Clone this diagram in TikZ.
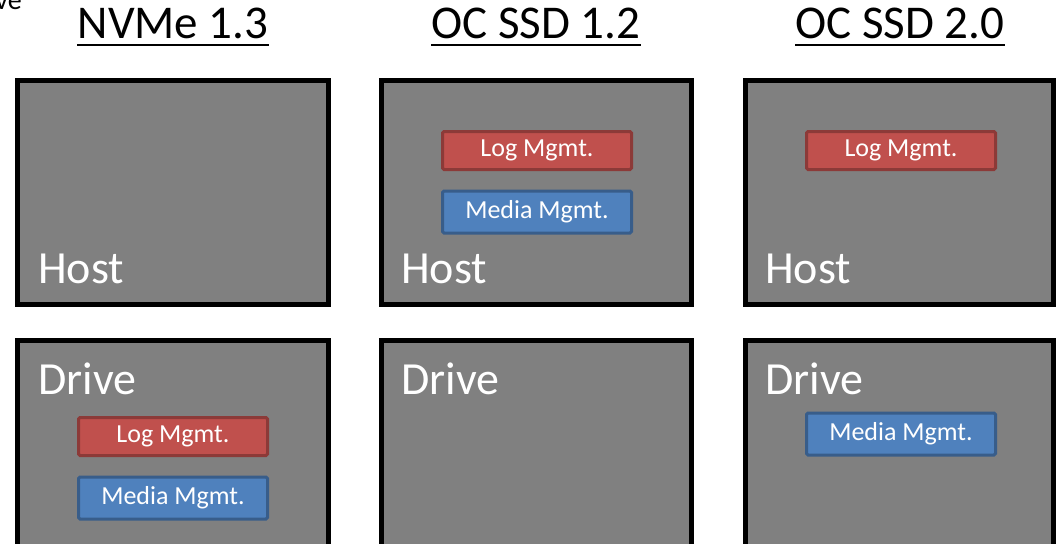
\documentclass[tikz,border=0pt]{standalone}
\usepackage{fontspec}
\setmainfont{Carlito}
\definecolor{boxgray}{HTML}{808080}
\definecolor{redfill}{HTML}{C0504D}
\definecolor{reddraw}{HTML}{8C3A38}
\definecolor{bluefill}{HTML}{4F81BD}
\definecolor{bluedraw}{HTML}{385D8A}
\begin{document}
\begin{tikzpicture}[x=1pt,y=-1pt,
  panel/.style={fill=boxgray,draw=black,line width=5pt},
  title/.style={font=\fontsize{47}{52}\selectfont,inner sep=0pt,anchor=base},
  big/.style={font=\fontsize{46}{52}\selectfont,text=white,inner sep=0pt,anchor=base west},
  logbox/.style={fill=redfill,draw=reddraw,line width=3pt,rounded corners=1.5pt,minimum width=189pt,minimum height=38pt,inner sep=0pt,text=white,font=\fontsize{26}{30}\selectfont},
  mediabox/.style={fill=bluefill,draw=bluedraw,line width=3pt,rounded corners=1.5pt,minimum width=189pt,minimum height=42pt,inner sep=0pt,text=white,font=\fontsize{26}{30}\selectfont}]
\useasboundingbox (0,0) rectangle (1056,543);
\clip (0,0) rectangle (1056,543);
% partial top-left text
\node[anchor=base east,inner sep=0pt,font=\fontsize{28}{32}\selectfont] (ve) at (22,10) {ve};
% titles
\node[title] (t1) at (173,38) {NVMe 1.3};
\node[title] (t2) at (536,38) {OC SSD 1.2};
\node[title] (t3) at (900,38) {OC SSD 2.0};
\foreach \t in {t1,t2,t3}{
  \draw[line width=2pt] ([yshift=-7pt]\t.base west) -- ([yshift=-7pt]\t.base east);
}
% panels
\draw[panel] (17.5,80.5) rectangle (328.5,304.5);
\draw[panel] (381,80.5) rectangle (691.5,304.5);
\draw[panel] (745,80.5) rectangle (1053.5,304.5);
\draw[panel] (17.5,340.5) rectangle (328.5,560);
\draw[panel] (381,340.5) rectangle (691.5,560);
\draw[panel] (745,340.5) rectangle (1053.5,560);
% labels
\node[big] (h1) at (38,283) {Host};
\node[big] (h2) at (401,283) {Host};
\node[big] (h3) at (765,283) {Host};
\node[big] (d1) at (38,394) {Drive};
\node[big] (d2) at (401,394) {Drive};
\node[big] (d3) at (765,394) {Drive};
% management boxes
\node[logbox] (l2) at (537,150.5) {Log Mgmt.};
\node[mediabox] (m2) at (537,212) {Media Mgmt.};
\node[logbox] (l3) at (901,150.5) {Log Mgmt.};
\node[logbox] (l1) at (173,436.5) {Log Mgmt.};
\node[mediabox] (m1) at (173,498) {Media Mgmt.};
\node[mediabox] (m3) at (901,434) {Media Mgmt.};
\end{tikzpicture}
\end{document}
